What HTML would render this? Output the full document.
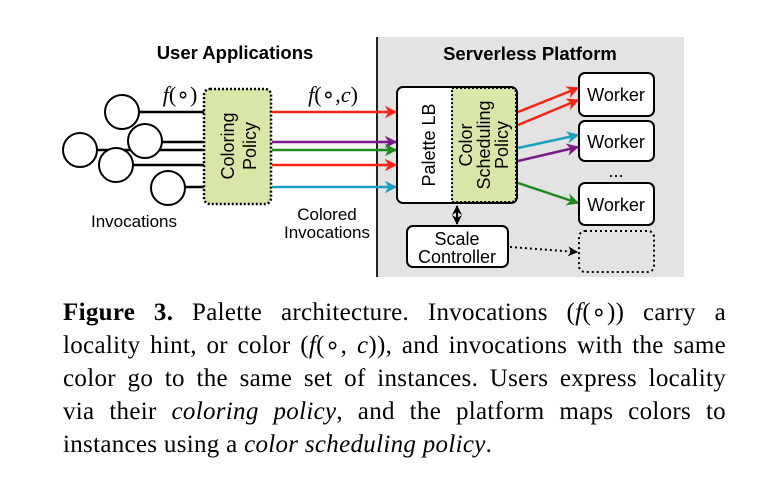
<!DOCTYPE html>
<html><head><meta charset="utf-8"><style>
body{margin:0;background:#fff;width:765px;height:477px;overflow:hidden;position:relative}
svg{position:absolute;left:0;top:0}
.cap{position:absolute;left:63px;width:663px;font-family:"Liberation Serif",serif;font-size:25px;letter-spacing:0.3px;line-height:33px;text-align:justify;text-align-last:justify;white-space:nowrap;color:#000}
.cap span.j{display:block}
</style></head><body>
<svg width="765" height="290" viewBox="0 0 765 290" font-family="Liberation Sans, sans-serif">
<defs>
<marker id="r" viewBox="0 0 10 10" refX="9" refY="5" markerWidth="5" markerHeight="5" orient="auto"><path d="M0,0 L10,5 L0,10 L3,5z" fill="#f21"/></marker>
<marker id="p" viewBox="0 0 10 10" refX="9" refY="5" markerWidth="5" markerHeight="5" orient="auto"><path d="M0,0 L10,5 L0,10 L3,5z" fill="#7a1a8a"/></marker>
<marker id="g" viewBox="0 0 10 10" refX="9" refY="5" markerWidth="5" markerHeight="5" orient="auto"><path d="M0,0 L10,5 L0,10 L3,5z" fill="#1a8a1a"/></marker>
<marker id="c" viewBox="0 0 10 10" refX="9" refY="5" markerWidth="5" markerHeight="5" orient="auto"><path d="M0,0 L10,5 L0,10 L3,5z" fill="#1aa0c0"/></marker>
<marker id="k" viewBox="0 0 10 10" refX="9" refY="5" markerWidth="5" markerHeight="5" orient="auto-start-reverse"><path d="M0,0 L10,5 L0,10 L3,5z" fill="#000"/></marker>
</defs>
<rect x="377" y="37" width="307" height="240" fill="#e3e3e3"/>
<line x1="377" y1="37" x2="377" y2="277" stroke="#222" stroke-width="2"/>
<text x="235" y="59" font-size="18.5" font-weight="bold" text-anchor="middle">User Applications</text>
<text x="530" y="60" font-size="18.5" font-weight="bold" text-anchor="middle">Serverless Platform</text>
<text x="180" y="102" font-size="22" font-family="Liberation Serif, serif" text-anchor="middle"><tspan font-style="italic">f</tspan>(∘)</text>
<text x="333" y="102" font-size="22" font-family="Liberation Serif, serif" text-anchor="middle"><tspan font-style="italic">f</tspan>(∘,<tspan font-style="italic">c</tspan>)</text>
<g stroke="#000" stroke-width="2.5">
<line x1="138" y1="112" x2="205" y2="112"/>
<line x1="162" y1="142" x2="205" y2="142"/>
<line x1="97" y1="150" x2="205" y2="150"/>
<line x1="133" y1="165" x2="205" y2="165"/>
<line x1="185" y1="187" x2="205" y2="187"/>
</g>
<g fill="#fff" stroke="#000" stroke-width="2">
<circle cx="122" cy="112" r="17"/>
<circle cx="80" cy="150" r="17"/>
<circle cx="145" cy="141" r="17"/>
<circle cx="116" cy="165" r="17"/>
<circle cx="168" cy="188" r="17"/>
</g>
<text x="134" y="227" font-size="17" text-anchor="middle">Invocations</text>
<rect x="204" y="89" width="67" height="115" rx="6" fill="#d8e6a8" stroke="#000" stroke-width="2.5" stroke-dasharray="2 2"/>
<text transform="translate(234,146) rotate(-90)" font-size="18" text-anchor="middle">Coloring</text>
<text transform="translate(256,146) rotate(-90)" font-size="18" text-anchor="middle">Policy</text>
<g stroke-width="2.5">
<line x1="272" y1="112" x2="396" y2="112" stroke="#f21" marker-end="url(#r)"/>
<line x1="272" y1="142" x2="396" y2="142" stroke="#7a1a8a" marker-end="url(#p)"/>
<line x1="272" y1="150" x2="396" y2="150" stroke="#1a8a1a" marker-end="url(#g)"/>
<line x1="272" y1="165" x2="396" y2="165" stroke="#f21" marker-end="url(#r)"/>
<line x1="272" y1="187" x2="396" y2="187" stroke="#1aa0c0" marker-end="url(#c)"/>
</g>
<text x="327" y="220" font-size="17" text-anchor="middle">Colored</text>
<text x="327" y="238" font-size="17" text-anchor="middle">Invocations</text>
<rect x="397" y="87" width="120" height="116" rx="6" fill="#fff" stroke="#000" stroke-width="2"/>
<path d="M452,88 H511 Q516,88 516,93 V197 Q516,202 511,202 H452 Z" fill="#d8e6a8" stroke="#000" stroke-width="2" stroke-dasharray="2 2"/>
<text transform="translate(435,145) rotate(-90)" font-size="18" text-anchor="middle">Palette LB</text>
<text transform="translate(472,145) rotate(-90)" font-size="18" text-anchor="middle">Color</text>
<text transform="translate(490,145) rotate(-90)" font-size="18" text-anchor="middle">Scheduling</text>
<text transform="translate(508,145) rotate(-90)" font-size="18" text-anchor="middle">Policy</text>
<g stroke-width="2.5">
<line x1="518" y1="112" x2="578" y2="88" stroke="#f21" marker-end="url(#r)"/>
<line x1="518" y1="125" x2="578" y2="100" stroke="#f21" marker-end="url(#r)"/>
<line x1="518" y1="148" x2="578" y2="135" stroke="#1aa0c0" marker-end="url(#c)"/>
<line x1="518" y1="161" x2="578" y2="147" stroke="#7a1a8a" marker-end="url(#p)"/>
<line x1="518" y1="183" x2="578" y2="203" stroke="#1a8a1a" marker-end="url(#g)"/>
</g>
<g fill="#fff" stroke="#000" stroke-width="2">
<rect x="579" y="73" width="75" height="43" rx="6"/>
<rect x="579" y="121" width="75" height="40" rx="6"/>
<rect x="579" y="183" width="75" height="42" rx="6"/>
<rect x="407" y="226" width="101" height="41" rx="6"/>
</g>
<rect x="579" y="231" width="75" height="41" rx="6" fill="none" stroke="#000" stroke-width="2" stroke-dasharray="2 3"/>
<g font-size="18" text-anchor="middle">
<text x="616" y="101">Worker</text>
<text x="616" y="148">Worker</text>
<text x="616" y="211">Worker</text>
<text x="616" y="177">...</text>
<text x="457" y="245">Scale</text>
<text x="457" y="263">Controller</text>
</g>
<line x1="457" y1="206" x2="457" y2="224" stroke="#000" stroke-width="2" marker-start="url(#k)" marker-end="url(#k)"/>
<line x1="510" y1="247" x2="577" y2="252" stroke="#000" stroke-width="2" stroke-dasharray="2 3" marker-end="url(#k)"/>
</svg>
<div class="cap" style="top:296px">
<span class="j"><b>Figure 3.</b> Palette architecture. Invocations (<i>f</i>(∘)) carry a</span>
<span class="j">locality hint, or color (<i>f</i>(∘, <i>c</i>)), and invocations with the same</span>
<span class="j">color go to the same set of instances. Users express locality</span>
<span class="j">via their <i>coloring policy</i>, and the platform maps colors to</span>
<span style="display:block;text-align-last:left">instances using a <i>color scheduling policy</i>.</span>
</div>
</body></html>
